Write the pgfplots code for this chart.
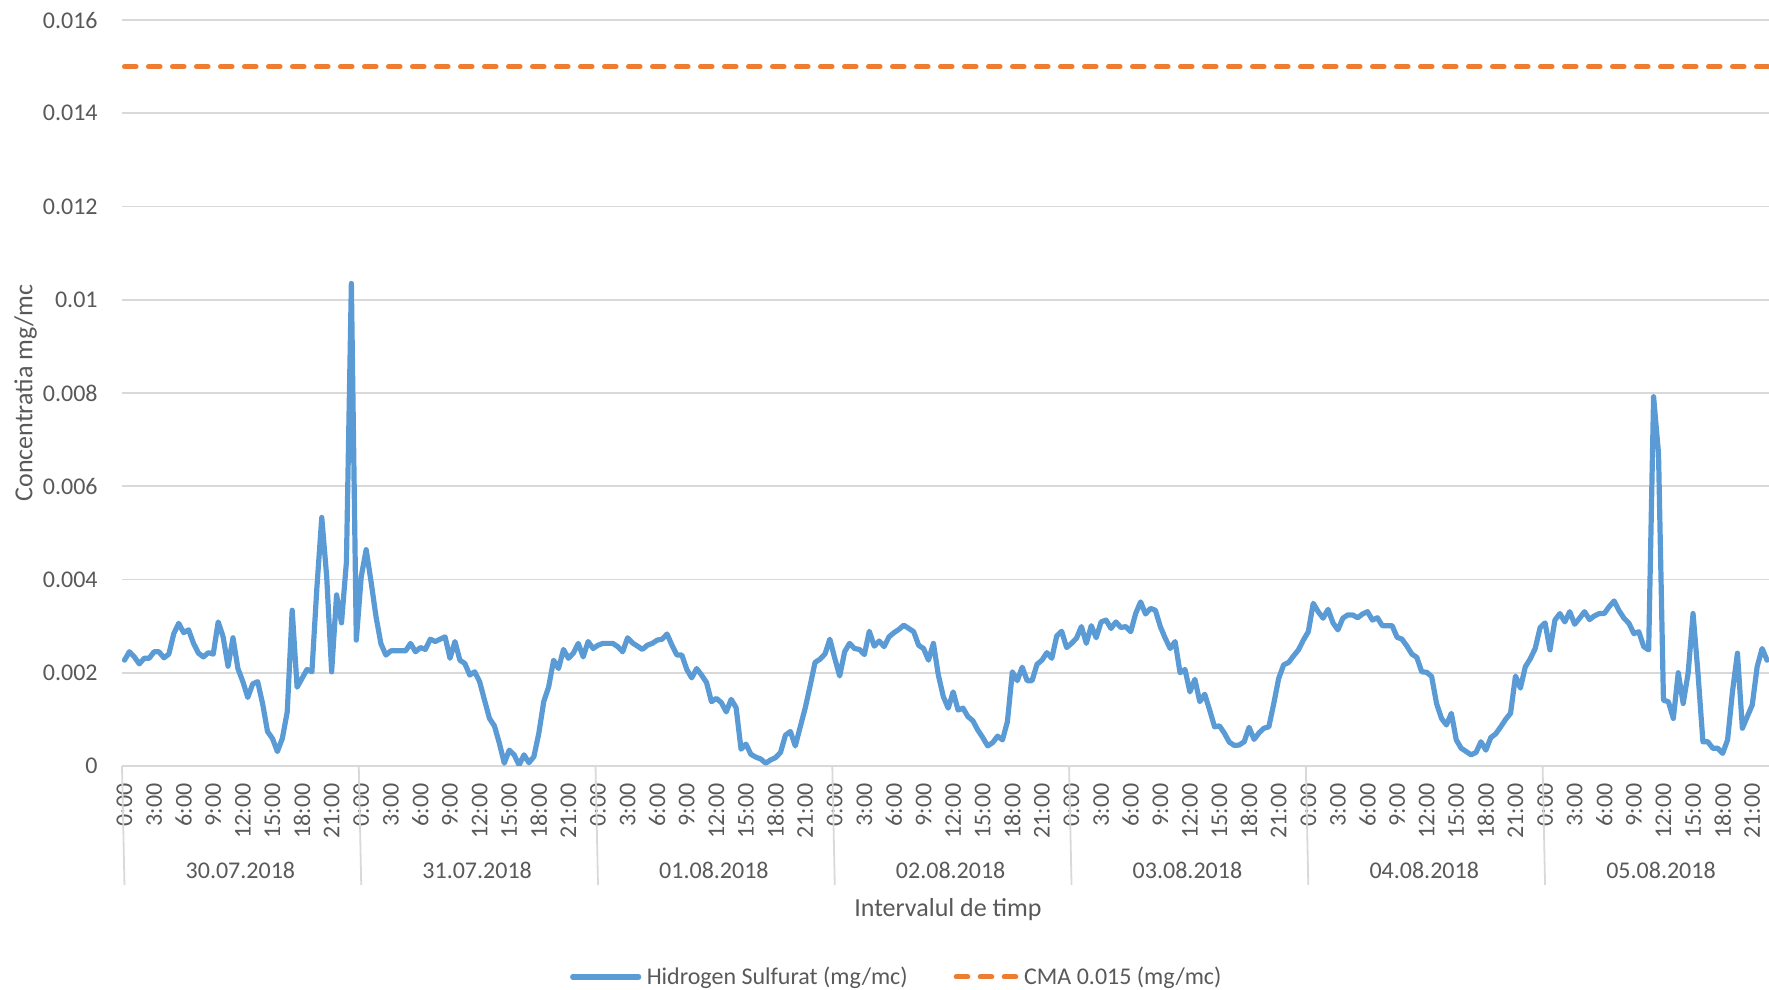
\documentclass[border=0pt]{standalone}
\usepackage{fontspec}
\setmainfont{Carlito}
\usepackage{pgfplots}
\usepackage{pgfplotstable}
\pgfplotsset{compat=1.18}
\definecolor{h2s}{HTML}{5B9BD5}
\definecolor{cma}{HTML}{ED7D31}
\definecolor{gridc}{HTML}{D9D9D9}
\definecolor{txt}{HTML}{595959}

\pgfplotstableread{
i v
0 0.00227
1 0.00245
2 0.00234
3 0.00219
4 0.00231
5 0.00231
6 0.00245
7 0.00245
8 0.00232
9 0.00240
10 0.00284
11 0.00306
12 0.00286
13 0.00292
14 0.00263
15 0.00242
16 0.00234
17 0.00243
18 0.00240
19 0.00309
20 0.00277
21 0.00214
22 0.00275
23 0.00209
24 0.00181
25 0.00147
26 0.00176
27 0.00181
28 0.00134
29 0.00074
30 0.00059
31 0.00031
32 0.00059
33 0.00116
34 0.00334
35 0.00169
36 0.00188
37 0.00207
38 0.00202
39 0.00381
40 0.00533
41 0.00406
42 0.00202
43 0.00367
44 0.00307
45 0.00438
46 0.01035
47 0.00270
48 0.00406
49 0.00464
50 0.00395
51 0.00320
52 0.00262
53 0.00238
54 0.00247
55 0.00247
56 0.00247
57 0.00247
58 0.00263
59 0.00245
60 0.00254
61 0.00250
62 0.00272
63 0.00267
64 0.00272
65 0.00277
66 0.00231
67 0.00267
68 0.00227
69 0.00220
70 0.00195
71 0.00202
72 0.00181
73 0.00141
74 0.00102
75 0.00086
76 0.00049
77 0.00006
78 0.00034
79 0.00024
80 0.00002
81 0.00024
82 0.00007
83 0.00020
84 0.00070
85 0.00138
86 0.00170
87 0.00227
88 0.00209
89 0.00250
90 0.00231
91 0.00242
92 0.00263
93 0.00234
94 0.00267
95 0.00252
96 0.00259
97 0.00263
98 0.00263
99 0.00263
100 0.00256
101 0.00245
102 0.00275
103 0.00264
104 0.00257
105 0.00250
106 0.00259
107 0.00263
108 0.00270
109 0.00272
110 0.00283
111 0.00259
112 0.00238
113 0.00238
114 0.00207
115 0.00189
116 0.00209
117 0.00195
118 0.00179
119 0.00138
120 0.00145
121 0.00136
122 0.00116
123 0.00143
124 0.00125
125 0.00036
126 0.00047
127 0.00025
128 0.00019
129 0.00015
130 0.00006
131 0.00013
132 0.00018
133 0.00029
134 0.00066
135 0.00074
136 0.00043
137 0.00084
138 0.00124
139 0.00172
140 0.00222
141 0.00229
142 0.00240
143 0.00272
144 0.00231
145 0.00193
146 0.00245
147 0.00263
148 0.00252
149 0.00250
150 0.00239
151 0.00289
152 0.00257
153 0.00268
154 0.00256
155 0.00277
156 0.00286
157 0.00293
158 0.00302
159 0.00295
160 0.00288
161 0.00259
162 0.00252
163 0.00227
164 0.00263
165 0.00195
166 0.00149
167 0.00124
168 0.00159
169 0.00120
170 0.00124
171 0.00106
172 0.00097
173 0.00077
174 0.00061
175 0.00043
176 0.00050
177 0.00064
178 0.00056
179 0.00095
180 0.00202
181 0.00183
182 0.00212
183 0.00183
184 0.00183
185 0.00218
186 0.00227
187 0.00243
188 0.00231
189 0.00279
190 0.00289
191 0.00254
192 0.00263
193 0.00274
194 0.00299
195 0.00263
196 0.00301
197 0.00275
198 0.00309
199 0.00313
200 0.00295
201 0.00309
202 0.00297
203 0.00299
204 0.00288
205 0.00327
206 0.00352
207 0.00326
208 0.00338
209 0.00334
210 0.00299
211 0.00274
212 0.00252
213 0.00267
214 0.00200
215 0.00207
216 0.00159
217 0.00186
218 0.00138
219 0.00154
220 0.00120
221 0.00084
222 0.00086
223 0.00070
224 0.00051
225 0.00044
226 0.00045
227 0.00052
228 0.00083
229 0.00057
230 0.00071
231 0.00081
232 0.00084
233 0.00134
234 0.00188
235 0.00217
236 0.00222
237 0.00236
238 0.00249
239 0.00270
240 0.00288
241 0.00349
242 0.00331
243 0.00317
244 0.00336
245 0.00307
246 0.00292
247 0.00317
248 0.00324
249 0.00324
250 0.00318
251 0.00326
252 0.00331
253 0.00313
254 0.00318
255 0.00301
256 0.00301
257 0.00301
258 0.00276
259 0.00272
260 0.00257
261 0.00240
262 0.00233
263 0.00202
264 0.00201
265 0.00192
266 0.00134
267 0.00102
268 0.00088
269 0.00113
270 0.00056
271 0.00038
272 0.00031
273 0.00024
274 0.00029
275 0.00052
276 0.00034
277 0.00061
278 0.00069
279 0.00084
280 0.00100
281 0.00113
282 0.00193
283 0.00167
284 0.00213
285 0.00230
286 0.00252
287 0.00297
288 0.00307
289 0.00249
290 0.00313
291 0.00327
292 0.00309
293 0.00331
294 0.00304
295 0.00317
296 0.00331
297 0.00314
298 0.00322
299 0.00327
300 0.00327
301 0.00342
302 0.00354
303 0.00333
304 0.00317
305 0.00306
306 0.00284
307 0.00288
308 0.00256
309 0.00249
310 0.00792
311 0.00670
312 0.00141
313 0.00138
314 0.00102
315 0.00200
316 0.00134
317 0.00199
318 0.00327
319 0.00199
320 0.00052
321 0.00052
322 0.00038
323 0.00038
324 0.00027
325 0.00056
326 0.00160
327 0.00242
328 0.00081
329 0.00106
330 0.00131
331 0.00213
332 0.00252
333 0.00227
}\hstable

\pgfplotstableread{
i v
0 0.015
333.4 0.015
}\cmatable

\begin{document}
\begin{tikzpicture}
\useasboundingbox (0,0) rectangle (884.5bp,495bp);
\begin{axis}[
  at={(61bp,112bp)}, anchor=south west,
  width=823.5bp, height=373bp, scale only axis,
  xmin=-0.5, xmax=333.4, ymin=0, ymax=0.016,
  axis line style={draw=none},
  ymajorgrids, grid style={gridc, line width=0.9bp},
  ytick={0,0.002,0.004,0.006,0.008,0.01,0.012,0.014,0.016},
  yticklabels={0,0.002,0.004,0.006,0.008,0.01,0.012,0.014,0.016},
  xtick={0,6,...,330},
  xticklabels={0:00,3:00,6:00,9:00,12:00,15:00,18:00,21:00,
               0:00,3:00,6:00,9:00,12:00,15:00,18:00,21:00,
               0:00,3:00,6:00,9:00,12:00,15:00,18:00,21:00,
               0:00,3:00,6:00,9:00,12:00,15:00,18:00,21:00,
               0:00,3:00,6:00,9:00,12:00,15:00,18:00,21:00,
               0:00,3:00,6:00,9:00,12:00,15:00,18:00,21:00,
               0:00,3:00,6:00,9:00,12:00,15:00,18:00,21:00},
  tick style={draw=none},
  yticklabel shift=12bp,
  xticklabel shift=8.5bp,
  yticklabel style={font=\fontsize{12bp}{14bp}\selectfont, text=txt, inner sep=0pt, anchor=east},
  xticklabel style={font=\fontsize{12bp}{14bp}\selectfont, text=txt, inner sep=0pt, rotate=90, anchor=east},
  clip mode=individual,
  xlabel={Intervalul de timp},
  ylabel={Concentratia mg/mc},
  xlabel style={at={(axis description cs:0.5015,-0.1922)}, anchor=center, font=\fontsize{13bp}{15bp}\selectfont, text=txt},
  ylabel style={at={(axis description cs:-0.0585,0.5)}, anchor=center, font=\fontsize{13bp}{15bp}\selectfont, text=txt},
  legend columns=2,
  legend style={at={(axis description cs:0.471,-0.2828)}, anchor=center, draw=none, fill=none,
    inner sep=0pt, font=\fontsize{12bp}{14bp}\selectfont, text=txt,
    /tikz/every odd column/.append style={column sep=0.75bp},
    /tikz/every even column/.append style={column sep=21bp}},
]
\addplot[h2s, line width=2.6bp, line join=round, line cap=round,
  legend image code/.code={\draw[h2s, line width=2.6bp, line cap=round] (0bp,0bp) -- (33bp,0bp);}]
  table[x=i, y=v] {\hstable};
\addlegendentry{Hidrogen Sulfurat (mg/mc)}
\addplot[cma, line width=2.5bp, line cap=round, dash pattern=on 5.8bp off 6.2bp,
  legend image code/.code={\draw[cma, line width=2.5bp, line cap=round, dash pattern=on 5.8bp off 6.2bp] (0bp,0bp) -- (30bp,0bp);}]
  table[x=i, y=v] {\cmatable};
\addlegendentry{CMA 0.015 (mg/mc)}
\pgfplotsinvokeforeach{-0.5,47.5,95.5,143.5,191.5,239.5,287.5}{
  \draw[gridc, line width=0.9bp] (axis cs:#1,0) -- ++(0,-59.5bp);
}
\node[font=\fontsize{12bp}{14bp}\selectfont, text=txt, inner sep=0pt] at ([yshift=-52bp]axis cs:23.5,0) {30.07.2018};
\node[font=\fontsize{12bp}{14bp}\selectfont, text=txt, inner sep=0pt] at ([yshift=-52bp]axis cs:71.5,0) {31.07.2018};
\node[font=\fontsize{12bp}{14bp}\selectfont, text=txt, inner sep=0pt] at ([yshift=-52bp]axis cs:119.5,0) {01.08.2018};
\node[font=\fontsize{12bp}{14bp}\selectfont, text=txt, inner sep=0pt] at ([yshift=-52bp]axis cs:167.5,0) {02.08.2018};
\node[font=\fontsize{12bp}{14bp}\selectfont, text=txt, inner sep=0pt] at ([yshift=-52bp]axis cs:215.5,0) {03.08.2018};
\node[font=\fontsize{12bp}{14bp}\selectfont, text=txt, inner sep=0pt] at ([yshift=-52bp]axis cs:263.5,0) {04.08.2018};
\node[font=\fontsize{12bp}{14bp}\selectfont, text=txt, inner sep=0pt] at ([yshift=-52bp]axis cs:311.5,0) {05.08.2018};
\end{axis}
\end{tikzpicture}
\end{document}
